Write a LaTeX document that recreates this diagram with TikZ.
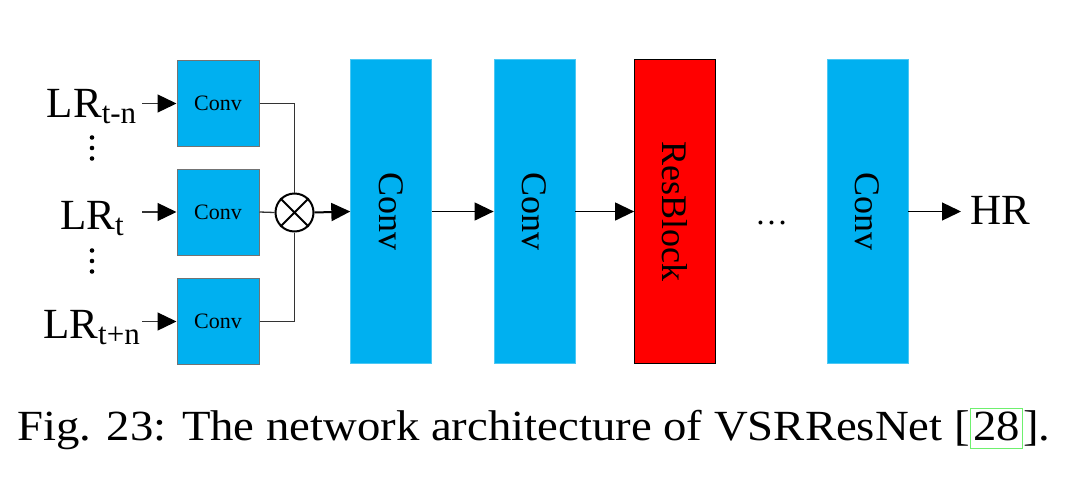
\documentclass[tikz,border=0pt]{standalone}
\usepackage{fontspec}
\setmainfont{Liberation Serif}
\usepackage{graphicx}
\usetikzlibrary{arrows.meta}
\definecolor{convblue}{HTML}{00B0F0}
\definecolor{convedge}{HTML}{4CC8F4}
\definecolor{linkgreen}{RGB}{110,240,110}
\newcommand\lrsub[1]{\raisebox{-6pt}{\fontsize{31}{34}\selectfont #1}}
\begin{document}
\begin{tikzpicture}[x=1pt,y=-1pt,
  smallbox/.style={draw=black!55, line width=1pt, fill=convblue, minimum width=82pt, minimum height=86pt, inner sep=0pt, font=\fontsize{22}{26}\selectfont},
  bigbox/.style={draw=convedge, line width=0.8pt, fill=convblue, minimum width=81pt, minimum height=304pt, inner sep=0pt, font=\fontsize{36}{42}\selectfont},
  resbox/.style={bigbox, fill=red, draw=black},
  lbl/.style={inner sep=0pt, anchor=base, font=\fontsize{43}{50}\selectfont},
  arr/.style={-{Triangle[length=19pt,width=18pt,color=black]}, line width=1.3pt},
  wire/.style={line width=1.3pt, draw=black!80},
]
\useasboundingbox (0,0) rectangle (1086,490);

% input labels
\node[lbl] (lr1) at (91.5,117) {LR\lrsub{t-n}};
\node[lbl] (lr2) at (92,229) {LR\lrsub{t}};
\node[lbl] (lr3) at (91.5,338) {LR\lrsub{t+n}};
\foreach \y in {137.5,148,158.5,250.5,261,271.5} \fill (92,\y) circle (2.3);

% small conv boxes
\node[smallbox] (c1) at (218,103.5) {Conv};
\node[smallbox] (c2) at (218,212) {Conv};
\node[smallbox] (c3) at (218,321.5) {Conv};

\coordinate (i1) at (142,103.5);
\coordinate (i2) at (142,212);
\coordinate (i3) at (142,321.5);
\draw[arr, wire] (i1) -- (c1.west);
\draw[arr, wire] (i2) -- (c2.west);
\draw[arr, wire] (i3) -- (c3.west);

% multiplication node
\node[draw, circle, line width=2pt, minimum size=38pt, inner sep=0pt] (mx) at (294.5,212.5) {};
\draw[line width=1.8pt] (mx.north east) -- (mx.south west) (mx.north west) -- (mx.south east);
\draw[wire] (c1.east) -| (mx.north);
\draw[wire] (c2.east) -- (mx.west);
\draw[wire] (c3.east) -| (mx.south);

% main chain
\node[bigbox] (b1) at (391.2,211.5) {\rotatebox{-90}{Conv}};
\node[bigbox] (b2) at (534.5,211.5) {\rotatebox{-90}{Conv}};
\node[resbox] (rb) at (675,211.5) {\rotatebox{-90}{ResBlock}};
\node[inner sep=0pt, anchor=base, font=\fontsize{33}{40}\selectfont] (el) at (771.5,224) {…};
\node[bigbox] (b4) at (867.5,211.5) {\rotatebox{-90}{Conv}};
\node[lbl, anchor=base west] (hr) at (970,224) {HR};

\draw[arr, line width=2pt] (mx.east) -- (b1.west);
\draw[arr] (b1.east) -- (b2.west);
\draw[arr] (b2.east) -- (rb.west);
\draw[arr] (b4.east) -- ([xshift=-9pt]b4.east -| hr.west);

% caption
\node[inner sep=0pt, anchor=base west] (cap) at (17,440) {\resizebox{1033pt}{\height}{\fontsize{43}{50}\selectfont Fig. 23: The network architecture of VSRResNet [{\fboxrule=1pt\fboxsep=2pt\color{linkgreen}\fbox{\color{black}\rule[-6pt]{0pt}{29pt}28}}].}};
\end{tikzpicture}
\end{document}
